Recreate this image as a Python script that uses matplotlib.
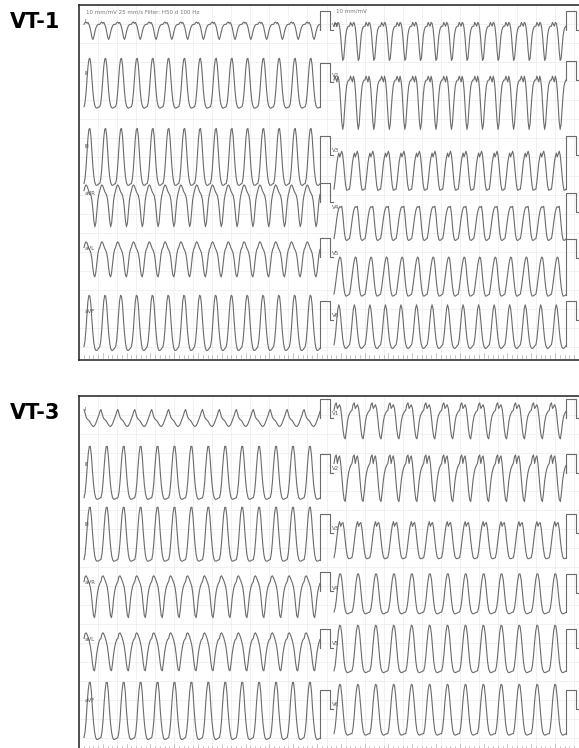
import numpy as np
import matplotlib.pyplot as plt

# paper speed / gain
PX_PER_S = 47.6      # 25 mm/s
PX_PER_MV = 19.0     # 10 mm/mV

LEFT_LEADS = ["I", "II", "III", "aVR", "aVL", "aVF"]
RIGHT_LEADS = ["V1", "V2", "V3", "V4", "V5", "V6"]

# one beat per lead, mV, equally spaced samples
VT1_BEATS = {
    "I":   [0.3, 0.38, 0.42, 0.35, 0.4, 0.3, 0.15, -0.1, -0.38, -0.5, -0.35, -0.1, 0.1, 0.22, 0.28, 0.3],
    "II":  [-1.3, -1.1, -0.6, 0.1, 0.8, 1.2, 1.25, 0.9, 0.2, -0.5, -1.0, -1.25, -1.35, -1.38, -1.35, -1.32],
    "III": [-1.5, -1.25, -0.7, 0.1, 0.9, 1.35, 1.4, 1.0, 0.2, -0.6, -1.15, -1.45, -1.58, -1.6, -1.57, -1.52],
    "aVR": [0.6, 0.8, 0.9, 0.85, 0.7, 0.55, 0.45, 0.35, 0.1, -0.4, -1.0, -1.3, -1.1, -0.5, 0.1, 0.4],
    "aVL": [0.5, 0.7, 0.8, 0.75, 0.6, 0.45, 0.35, 0.2, -0.1, -0.6, -0.95, -1.05, -0.8, -0.3, 0.15, 0.4],
    "aVF": [-1.4, -1.1, -0.5, 0.3, 1.0, 1.3, 1.25, 0.8, 0.0, -0.7, -1.2, -1.5, -1.6, -1.6, -1.55, -1.48],
    "V1":  [0.2, 0.4, 0.3, 0.2, 0.4, 0.35, 0.1, -0.4, -1.1, -1.6, -1.5, -0.9, -0.3, 0.0, 0.15, 0.2],
    "V2":  [0.0, 0.2, 0.05, -0.1, 0.2, 0.0, -0.5, -1.4, -2.2, -2.6, -2.3, -1.5, -0.8, -0.3, -0.1, 0.0],
    "V3":  [-1.8, -1.4, -0.9, -0.4, -0.1, 0.1, -0.1, 0.05, 0.2, 0.0, -0.5, -1.1, -1.6, -1.85, -1.85, -1.8],
    "V4":  [-1.4, -1.1, -0.7, -0.3, 0.0, 0.2, 0.28, 0.25, 0.3, -0.1, -0.7, -1.2, -1.45, -1.5, -1.47, -1.42],
    "V5":  [-1.9, -1.6, -1.2, -0.8, -0.4, -0.1, 0.05, 0.0, -0.4, -1.0, -1.5, -1.85, -2.0, -2.0, -1.97, -1.93],
    "V6":  [-1.3, -1.0, -0.5, 0.1, 0.6, 0.8, 0.6, 0.1, -0.5, -1.0, -1.3, -1.45, -1.5, -1.48, -1.42, -1.35],
}
VT3_BEATS = {
    "I":   [0.45, 0.25, 0.05, -0.05, -0.1, -0.15, -0.25, -0.35, -0.42, -0.45, -0.4, -0.3, -0.15, 0.0, 0.15, 0.35],
    "II":  [-1.3, -1.05, -0.5, 0.3, 1.0, 1.4, 1.4, 0.9, 0.1, -0.6, -1.05, -1.3, -1.38, -1.38, -1.35, -1.32],
    "III": [-1.4, -1.1, -0.5, 0.3, 1.0, 1.35, 1.35, 0.85, 0.05, -0.65, -1.15, -1.4, -1.48, -1.48, -1.45, -1.42],
    "aVR": [0.5, 0.75, 0.8, 0.7, 0.55, 0.4, 0.2, -0.2, -0.8, -1.3, -1.4, -1.0, -0.4, 0.0, 0.25, 0.4],
    "aVL": [0.5, 0.75, 0.8, 0.7, 0.55, 0.35, 0.1, -0.3, -0.8, -1.15, -1.2, -0.8, -0.3, 0.05, 0.3, 0.45],
    "aVF": [-1.5, -1.2, -0.6, 0.3, 1.0, 1.4, 1.4, 0.9, 0.0, -0.7, -1.2, -1.5, -1.6, -1.6, -1.57, -1.53],
    "V1":  [0.4, 0.7, 0.8, 0.5, 0.6, 0.7, 0.5, 0.0, -0.6, -1.0, -1.1, -0.7, -0.2, 0.1, 0.25, 0.35],
    "V2":  [0.5, 0.85, 0.95, 0.5, 0.8, 0.9, 0.5, -0.2, -0.9, -1.4, -1.5, -1.0, -0.4, 0.0, 0.25, 0.4],
    "V3":  [-1.3, -1.0, -0.5, 0.0, 0.4, 0.6, 0.35, 0.5, 0.55, 0.2, -0.4, -0.9, -1.25, -1.35, -1.35, -1.32],
    "V4":  [-1.0, -0.8, -0.4, 0.2, 0.7, 1.0, 1.0, 0.7, 0.1, -0.5, -0.9, -1.05, -1.1, -1.08, -1.05, -1.02],
    "V5":  [-1.2, -0.95, -0.4, 0.3, 0.9, 1.2, 1.15, 0.7, 0.0, -0.7, -1.1, -1.25, -1.3, -1.28, -1.25, -1.22],
    "V6":  [-1.3, -1.0, -0.4, 0.4, 1.0, 1.3, 1.25, 0.7, 0.0, -0.7, -1.15, -1.32, -1.38, -1.36, -1.33, -1.3],
}

# beats per 5 s strip (left column, right column)
VT1_COUNTS = (15, 15)
VT3_COUNTS = (14, 13)

# baseline of each row, px below the top of the frame
VT1_ROWS_LEFT = [25, 77, 150, 197, 252, 315]
VT1_ROWS_RIGHT = [25, 75, 150, 207, 253, 315]
VT3_ROWS_LEFT = [22, 77, 137, 195, 252, 313]
VT3_ROWS_RIGHT = [22, 77, 137, 197, 252, 313]

TRACE = "#6b6b6b"


def strip(beat, n_beats, t0, t1):
    beat = np.asarray(beat)
    y = np.tile(beat, n_beats)
    t = np.linspace(t0, t1, len(y))
    return t, y


def cal_pulse(t0, base):
    w = 0.2
    t = [t0, t0, t0 + w, t0 + w, t0 + w + 0.08]
    y = [base, base + 1, base + 1, base, base]
    return t, y


def draw_panel(fig, top_px, beats, counts, rows_l, rows_r, title, header):
    W, H = 579, 748
    left_px, width_px, height_px = 79, 510, 355
    ax = fig.add_axes([left_px / W, 1 - (top_px + height_px) / H,
                       width_px / W, height_px / H])
    xmax = width_px / PX_PER_S
    ymin = -height_px / PX_PER_MV
    ax.set_xlim(0, xmax)
    ax.set_ylim(ymin, 0)

    # ecg paper grid
    for gx in np.arange(0, xmax, 0.4):
        ax.axvline(gx, color="#ececec", lw=0.5, zorder=0)
    for gy in np.arange(0, ymin, -1.0):
        ax.axhline(gy, color="#ececec", lw=0.5, zorder=0)

    tl0, tl1 = 5 / PX_PER_S, 241 / PX_PER_S
    tr0, tr1 = 255 / PX_PER_S, 487 / PX_PER_S

    for lead, r in zip(LEFT_LEADS, rows_l):
        base = -r / PX_PER_MV
        t, y = strip(beats[lead], counts[0], tl0, tl1)
        ax.plot(t, y + base, color=TRACE, lw=0.8)
        ct, cy = cal_pulse(tl1, base)
        ax.plot([t[-1]] + ct, [y[-1] + base] + cy, color=TRACE, lw=0.8)
        ax.text(tl0 + 0.02, base + 0.35, lead, fontsize=4, color="#555555")
    for lead, r in zip(RIGHT_LEADS, rows_r):
        base = -r / PX_PER_MV
        t, y = strip(beats[lead], counts[1], tr0, tr1)
        ax.plot(t, y + base, color=TRACE, lw=0.8)
        ct, cy = cal_pulse(tr1, base)
        ax.plot([t[-1]] + ct, [y[-1] + base] + cy, color=TRACE, lw=0.8)
        ax.text(tr0 - 0.05, base + 0.15, lead, fontsize=4, color="#555555")

    # timing marks along the bottom edge
    for k, tx in enumerate(np.arange(0.1, xmax, 0.1)):
        h = 0.25 if k % 5 == 4 else 0.12
        ax.plot([tx, tx], [ymin + 0.12, ymin + 0.12 + h], color="#999999", lw=0.4)

    if header:
        ax.text(0.15, -0.35, "10 mm/mV 25 mm/s Filter: H50 d 100 Hz",
                fontsize=4, color="#777777", va="center")
        ax.text(tr0 + 0.05, -0.3, "10 mm/mV", fontsize=4, color="#777777", va="center")

    ax.set_xticks([])
    ax.set_yticks([])
    for s in ax.spines.values():
        s.set_linewidth(1.1)
        s.set_color("#222222")

    fig.text(10 / W, 1 - (top_px + 17) / H, title, fontsize=15, fontweight="bold",
             family="DejaVu Sans", va="center", ha="left")


fig = plt.figure(figsize=(5.79, 7.48), dpi=100)
draw_panel(fig, 5, VT1_BEATS, VT1_COUNTS, VT1_ROWS_LEFT, VT1_ROWS_RIGHT, "VT-1", True)
draw_panel(fig, 396, VT3_BEATS, VT3_COUNTS, VT3_ROWS_LEFT, VT3_ROWS_RIGHT, "VT-3", False)
fig.savefig("out.png", dpi=100, facecolor="white")
